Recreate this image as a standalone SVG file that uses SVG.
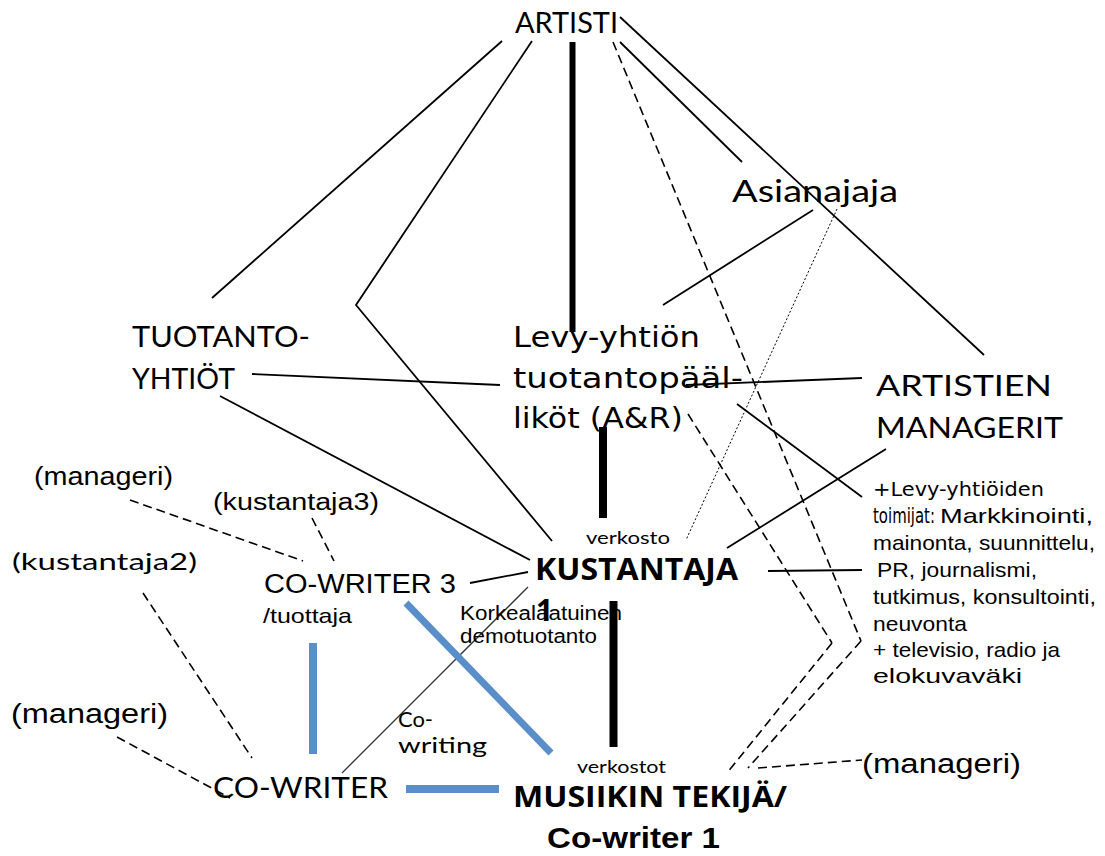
<svg xmlns="http://www.w3.org/2000/svg" width="1105" height="856" viewBox="0 0 1105 856">
<style>
.ln{stroke:#000;stroke-width:1.8;fill:none}
.th{stroke:#000;fill:none}
.ds{stroke:#000;stroke-width:1.6;fill:none;stroke-dasharray:9 5}
.dt{stroke:#000;stroke-width:1;fill:none;stroke-dasharray:2 2}
.bl{stroke:#5a8ec8;fill:none}
.hs{font-family:Lato,"Open Sans",sans-serif;fill:#000}
.wd{font-family:"DejaVu Sans",Verdana,sans-serif;fill:#000}
.ar{font-family:"Liberation Sans",Arial,sans-serif;fill:#000}
.bd{font-family:"Open Sans","Liberation Sans",sans-serif;font-weight:bold;fill:#000}
</style>
<rect width="1105" height="856" fill="#fff"/>
<g id="connectors">
<line class="ln" x1="502" y1="41" x2="212" y2="298"/>
<polyline class="ln" points="532,41 356,305 552,541"/>
<line class="th" x1="572.5" y1="42" x2="572.5" y2="332" stroke-width="6"/>
<line class="ds" x1="613" y1="42" x2="861" y2="641"/>
<line class="ln" x1="620" y1="42" x2="742" y2="162"/>
<line class="ln" x1="620" y1="17" x2="984" y2="355"/>
<line class="ln" x1="813" y1="210" x2="663" y2="305"/>
<line class="dt" x1="837" y1="209" x2="686" y2="540"/>
<line class="ln" x1="252" y1="374" x2="500" y2="385"/>
<line class="ln" x1="686" y1="385" x2="862" y2="378"/>
<line class="ln" x1="220" y1="396" x2="530" y2="560"/>
<line class="ln" x1="470" y1="583" x2="528" y2="572"/>
<line stroke="#333" stroke-width="1.3" x1="528" y1="587" x2="342" y2="773"/>
<line class="bl" x1="406" y1="603" x2="551" y2="753" stroke-width="7"/>
<line class="bl" x1="313" y1="643" x2="313" y2="754" stroke-width="8"/>
<line class="bl" x1="406" y1="789" x2="499" y2="789" stroke-width="8"/>
<line class="th" x1="603" y1="427" x2="603" y2="518" stroke-width="8"/>
<line class="th" x1="613.5" y1="601" x2="613.5" y2="747" stroke-width="8"/>
<line class="ln" x1="886" y1="449" x2="727" y2="548"/>
<line class="ln" x1="737" y1="404" x2="862" y2="497"/>
<line class="ln" x1="768" y1="571" x2="862" y2="570"/>
<line class="ds" x1="688" y1="414" x2="832" y2="643"/>
<polyline class="ds" points="832,643 727,773"/>
<polyline class="ds" points="861,641 748,768"/>
<line class="ds" x1="758" y1="768" x2="862" y2="760"/>
<line class="ds" x1="130" y1="500" x2="303" y2="561"/>
<line class="ds" x1="312" y1="518" x2="334" y2="561"/>
<line class="ds" x1="143" y1="593" x2="252" y2="758"/>
<line class="ds" x1="117" y1="737" x2="230" y2="798"/>
</g>
<g id="artisti"><text class="hs" x="515" y="33" font-size="29" textLength="103" lengthAdjust="spacingAndGlyphs">ARTISTI</text></g>
<g id="asianajaja"><text class="hs" x="732" y="202" font-size="30" textLength="166" lengthAdjust="spacingAndGlyphs">Asianajaja</text></g>
<g id="tuotantoyhtiot">
<text class="hs" x="132" y="347" font-size="29" textLength="178" lengthAdjust="spacingAndGlyphs">TUOTANTO-</text>
<text class="hs" x="132" y="389" font-size="29" textLength="103" lengthAdjust="spacingAndGlyphs">YHTIÖT</text>
</g>
<g id="levyyhtio">
<text class="wd" x="513" y="347" font-size="28" textLength="187" lengthAdjust="spacingAndGlyphs">Levy-yhtiön</text>
<text class="wd" x="513" y="388" font-size="28" textLength="230" lengthAdjust="spacingAndGlyphs">tuotantopääl-</text>
<text class="wd" x="513" y="428" font-size="28" textLength="170" lengthAdjust="spacingAndGlyphs">liköt (A&amp;R)</text>
</g>
<g id="managerit">
<text class="hs" x="876" y="396" font-size="29" textLength="176" lengthAdjust="spacingAndGlyphs">ARTISTIEN</text>
<text class="hs" x="876" y="438" font-size="29" textLength="187" lengthAdjust="spacingAndGlyphs">MANAGERIT</text>
</g>
<g id="toimijat">
<text class="wd" x="873" y="496" font-size="20" textLength="171" lengthAdjust="spacingAndGlyphs">+Levy-yhtiöiden</text>
<text class="wd" x="873" y="523" font-size="21" textLength="62" lengthAdjust="spacingAndGlyphs">toimijat:</text>
<text class="ar" x="940" y="523" font-size="21" textLength="153" lengthAdjust="spacingAndGlyphs">Markkinointi,</text>
<text class="ar" x="873" y="550" font-size="21" textLength="222" lengthAdjust="spacingAndGlyphs">mainonta, suunnittelu,</text>
<text class="ar" x="877" y="577" font-size="21" textLength="160" lengthAdjust="spacingAndGlyphs">PR, journalismi,</text>
<text class="ar" x="873" y="604" font-size="21" textLength="223" lengthAdjust="spacingAndGlyphs">tutkimus, konsultointi,</text>
<text class="ar" x="873" y="631" font-size="21" textLength="94" lengthAdjust="spacingAndGlyphs">neuvonta</text>
<text class="ar" x="873" y="657" font-size="21" textLength="187" lengthAdjust="spacingAndGlyphs">+ televisio, radio ja</text>
<text class="ar" x="873" y="683" font-size="21" textLength="149" lengthAdjust="spacingAndGlyphs">elokuvaväki</text>
</g>
<g id="kustantaja">
<text class="hs" x="586" y="544" font-size="18" textLength="84" lengthAdjust="spacingAndGlyphs">verkosto</text>
<text class="bd" x="535" y="580" font-size="30" textLength="203" lengthAdjust="spacingAndGlyphs">KUSTANTAJA</text>
<text class="bd" x="536" y="621" font-size="30">1</text>
</g>
<g id="demotuotanto">
<text class="ar" x="460" y="620" font-size="20" fill="#222" textLength="162" lengthAdjust="spacingAndGlyphs">Korkealaatuinen</text>
<text class="ar" x="460" y="643" font-size="20" fill="#222" textLength="137" lengthAdjust="spacingAndGlyphs">demotuotanto</text>
</g>
<g id="cowriter3">
<text class="ar" x="264" y="593" font-size="27" textLength="192" lengthAdjust="spacingAndGlyphs">CO-WRITER 3</text>
<text class="ar" x="263" y="623" font-size="21" textLength="89" lengthAdjust="spacingAndGlyphs">/tuottaja</text>
</g>
<g id="manageri1"><text class="ar" x="34" y="485" font-size="25" textLength="139" lengthAdjust="spacingAndGlyphs">(manageri)</text></g>
<g id="kustantaja3"><text class="ar" x="213" y="510" font-size="23" textLength="166" lengthAdjust="spacingAndGlyphs">(kustantaja3)</text></g>
<g id="kustantaja2"><text class="hs" x="12" y="570" font-size="24" textLength="185" lengthAdjust="spacingAndGlyphs">(kustantaja2)</text></g>
<g id="manageri2"><text class="ar" x="11" y="723" font-size="27" textLength="157" lengthAdjust="spacingAndGlyphs">(manageri)</text></g>
<g id="cowriter"><text class="hs" x="213" y="798" font-size="29" textLength="175" lengthAdjust="spacingAndGlyphs">CO-WRITER</text></g>
<g id="cowriting">
<text class="hs" x="398" y="727" font-size="22" fill="#444" textLength="35" lengthAdjust="spacingAndGlyphs">Co-</text>
<text class="hs" x="398" y="753" font-size="22" fill="#444" textLength="89" lengthAdjust="spacingAndGlyphs">writing</text>
</g>
<g id="musiikintekija">
<text class="hs" x="577" y="773" font-size="18" textLength="89" lengthAdjust="spacingAndGlyphs">verkostot</text>
<text class="bd" x="513" y="807" font-size="29" textLength="274" lengthAdjust="spacingAndGlyphs">MUSIIKIN TEKIJÄ/</text>
<text class="ar" x="547" y="848" font-size="29" font-weight="bold" textLength="173" lengthAdjust="spacingAndGlyphs">Co-writer 1</text>
</g>
<g id="manageri3"><text class="ar" x="862" y="773" font-size="27" textLength="159" lengthAdjust="spacingAndGlyphs">(manageri)</text></g>
</svg>
